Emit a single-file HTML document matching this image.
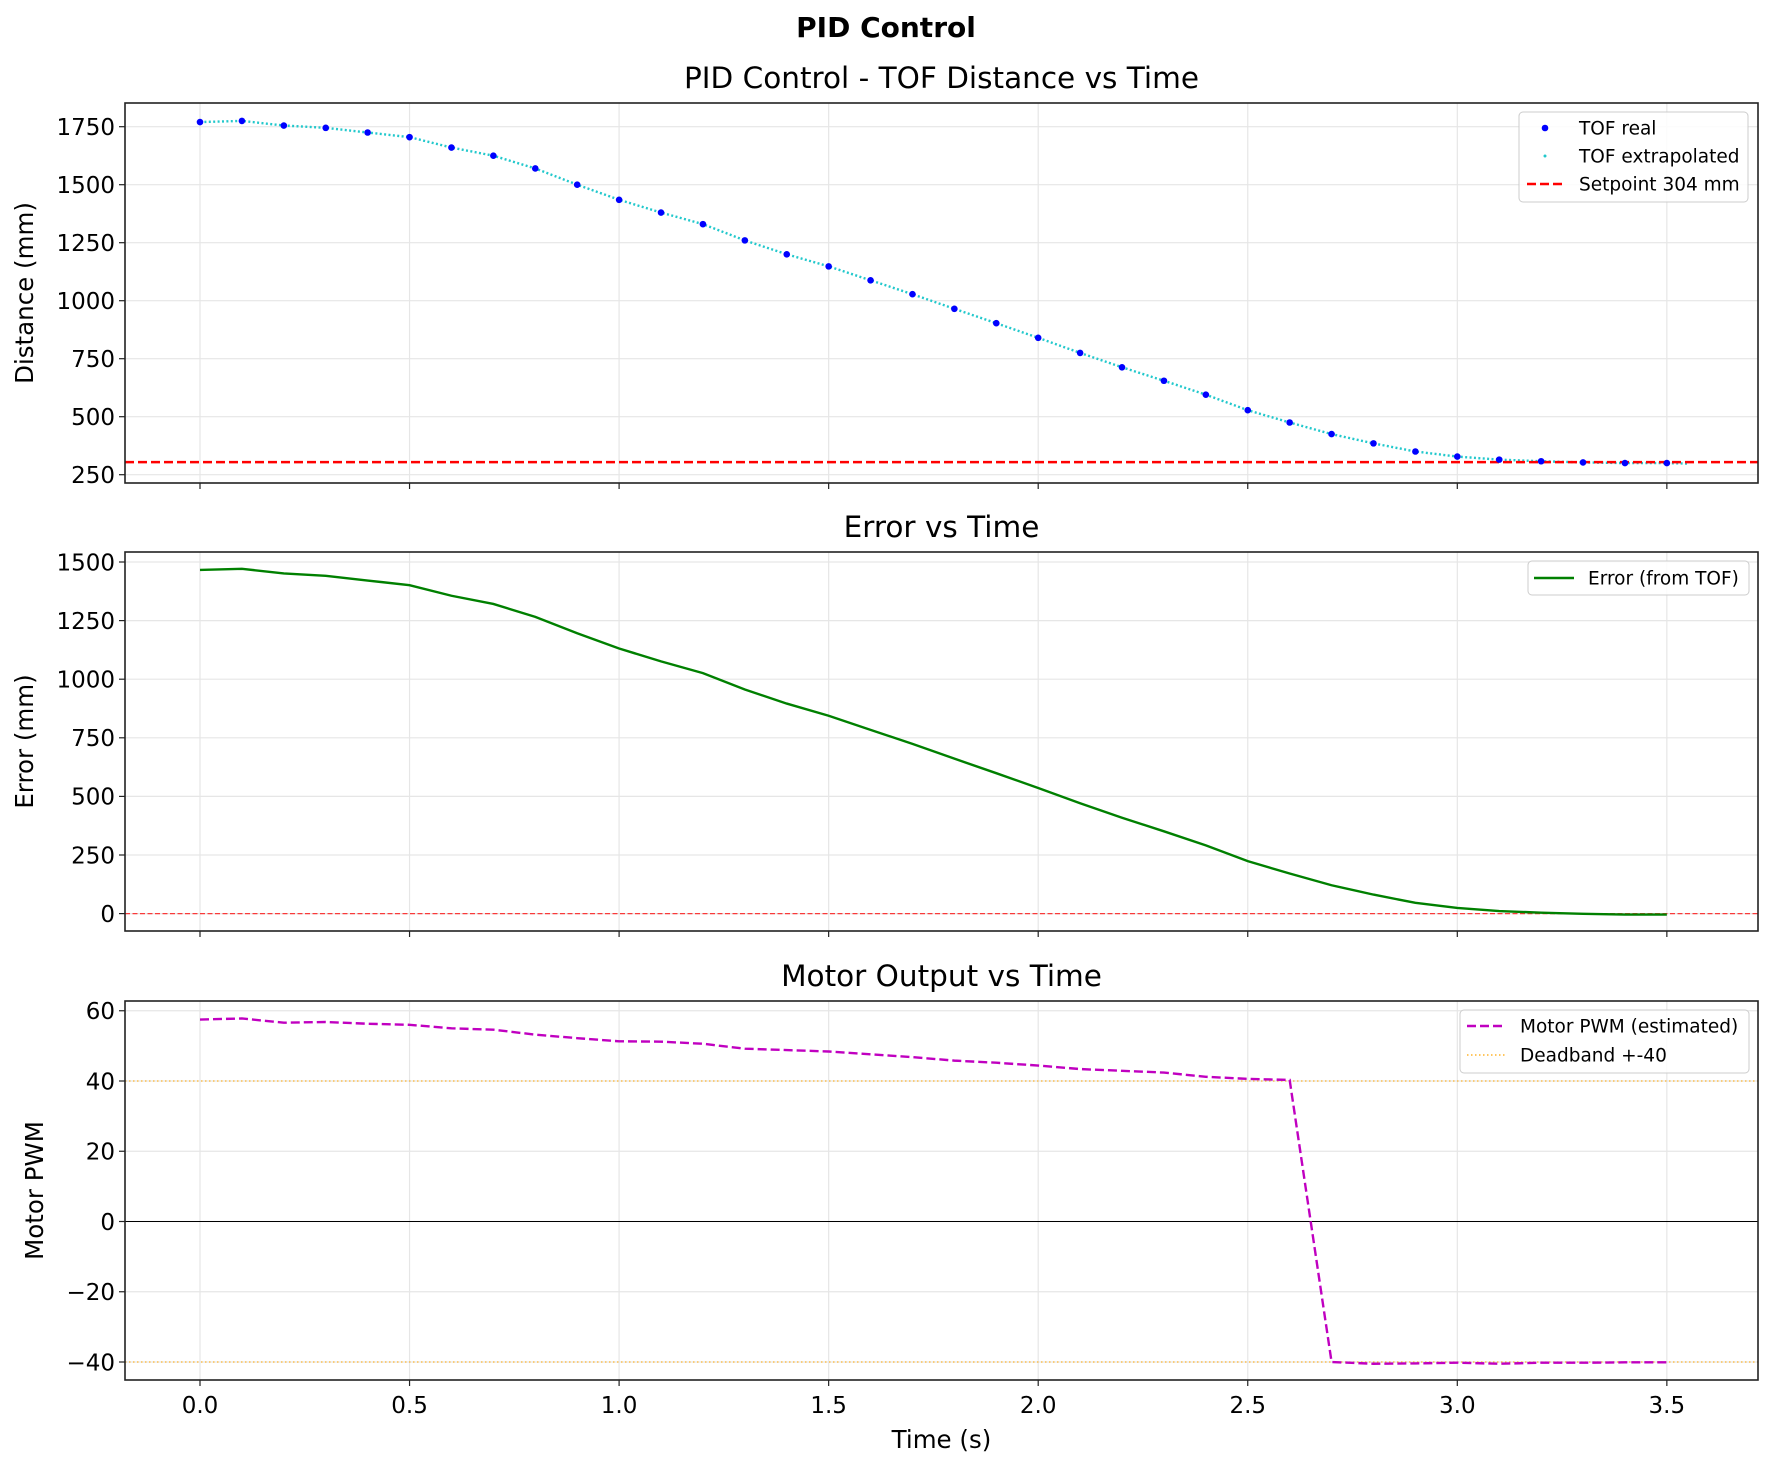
<!DOCTYPE html>
<html><head><meta charset="utf-8"><style>
body{margin:0;background:#fff;}
svg{display:block;font-family:"DejaVu Sans","Liberation Sans",sans-serif;}
</style></head><body>
<svg id="s" width="1773" height="1467" xmlns="http://www.w3.org/2000/svg"></svg>
<script>
const S=document.getElementById('s');let h='';
const X0=125,X1=1758;
const tx=t=>200+t*419.1;
const T=[];for(let i=0;i<=35;i++)T.push(i/10);
const D=[1770,1775,1755,1745,1725,1705,1660,1625,1570,1500,1435,1380,1330,1260,1200,1148,1088,1028,965,903,840,775,713,655,595,528,475,425,385,350,328,315,308,303,300,300];
const M=[57.5,57.8,56.6,56.8,56.3,56,55,54.6,53.2,52.2,51.3,51.2,50.6,49.2,48.8,48.4,47.6,46.8,45.8,45.2,44.4,43.4,42.9,42.4,41.2,40.6,40.3,-40,-40.5,-40.4,-40.2,-40.5,-40.2,-40.2,-40.1,-40.1];
function axes(top,bot,yf,ticks,ylabel,title,showX,lx){
  for(const t of [0,0.5,1,1.5,2,2.5,3,3.5]){const x=tx(t);h+=`<line x1="${x}" y1="${top}" x2="${x}" y2="${bot}" stroke="#e6e6e6" stroke-width="1.2"/>`;
    h+=`<line x1="${x}" y1="${bot}" x2="${x}" y2="${bot+6}" stroke="#222" stroke-width="1.2"/>`;
    if(showX)h+=`<text x="${x}" y="${bot+33}" font-size="23" text-anchor="middle">${t.toFixed(1)}</text>`;}
  for(const v of ticks){const y=yf(v);h+=`<line x1="${X0}" y1="${y}" x2="${X1}" y2="${y}" stroke="#e6e6e6" stroke-width="1.2"/>`;
    h+=`<line x1="${X0-6}" y1="${y}" x2="${X0}" y2="${y}" stroke="#222" stroke-width="1.2"/>`;
    h+=`<text x="${X0-10}" y="${y+8.3}" font-size="23" text-anchor="end">${String(v).replace('-','\u2212')}</text>`;}
  h+=`<text transform="translate(${lx},${(top+bot)/2}) rotate(-90)" font-size="24.5" text-anchor="middle">${ylabel}</text>`;
  h+=`<text x="${(X0+X1)/2}" y="${top-15}" font-size="29.5" text-anchor="middle">${title}</text>`;
}
function frame(top,bot){h+=`<rect x="${X0}" y="${top}" width="${X1-X0}" height="${bot-top}" fill="none" stroke="#222" stroke-width="1.6"/>`;}
h+=`<text x="886" y="37" font-size="28" font-weight="bold" text-anchor="middle">PID Control</text>`;
const y1=v=>126.7+(1750-v)*0.232;
axes(103,483,y1,[250,500,750,1000,1250,1500,1750],'Distance (mm)','PID Control - TOF Distance vs Time',false,33);
let pts=T.map((t,i)=>`${tx(t)},${y1(D[i])}`);pts.push(`${tx(3.55)},${y1(298)}`);
h+=`<polyline points="${pts.join(' ')}" fill="none" stroke="#22c8cc" stroke-width="2.4" stroke-dasharray="2 2.4"/>`;
h+=`<line x1="${X0}" y1="${y1(304)}" x2="${X1}" y2="${y1(304)}" stroke="#f00" stroke-width="2.5" stroke-dasharray="9 4"/>`;
T.forEach((t,i)=>{h+=`<circle cx="${tx(t)}" cy="${y1(D[i])}" r="3.3" fill="#0000ff"/>`;});
frame(103,483);
h+=`<rect x="1519" y="112" width="229" height="90" rx="4" fill="#fff" fill-opacity="0.85" stroke="#ccc"/>`;
h+=`<circle cx="1545" cy="128" r="3.3" fill="#00f"/><circle cx="1545" cy="156" r="1.5" fill="#22c8cc"/>`;
h+=`<line x1="1527" y1="184" x2="1564" y2="184" stroke="#f00" stroke-width="2.5" stroke-dasharray="9 4"/>`;
h+=`<text x="1579" y="134.5" font-size="18.5">TOF real</text><text x="1579" y="162.5" font-size="18.5">TOF extrapolated</text><text x="1579" y="190.5" font-size="18.5">Setpoint 304 mm</text>`;
const y2=v=>913.6-v*0.2344;
axes(552,931,y2,[0,250,500,750,1000,1250,1500],'Error (mm)','Error vs Time',false,33);
h+=`<line x1="${X0}" y1="${y2(0)}" x2="${X1}" y2="${y2(0)}" stroke="#f00" stroke-opacity="0.75" stroke-width="1.3" stroke-dasharray="5 2.5"/>`;
h+=`<polyline points="${T.map((t,i)=>`${tx(t)},${y2(Math.max(D[i]-304,-4))}`).join(' ')}" fill="none" stroke="#008000" stroke-width="2.4"/>`;
frame(552,931);
h+=`<rect x="1528" y="561" width="221" height="34" rx="4" fill="#fff" fill-opacity="0.85" stroke="#ccc"/>`;
h+=`<line x1="1534" y1="578" x2="1574" y2="578" stroke="#008000" stroke-width="2.4"/><text x="1588" y="584.5" font-size="18.5">Error (from TOF)</text>`;
const y3=v=>1221.5-v*3.5125;
axes(1001,1380,y3,[-40,-20,0,20,40,60],'Motor PWM','Motor Output vs Time',true,43);
h+=`<line x1="${X0}" y1="${y3(0)}" x2="${X1}" y2="${y3(0)}" stroke="#000" stroke-width="1"/>`;
for(const v of [40,-40])h+=`<line x1="${X0}" y1="${y3(v)}" x2="${X1}" y2="${y3(v)}" stroke="#ffa500" stroke-opacity="0.8" stroke-width="1.3" stroke-dasharray="1.5 2.5"/>`;
h+=`<polyline points="${T.map((t,i)=>`${tx(t)},${y3(M[i])}`).join(' ')}" fill="none" stroke="#c000c0" stroke-width="2.4" stroke-dasharray="9 4"/>`;
frame(1001,1380);
h+=`<rect x="1460" y="1010" width="289" height="63" rx="4" fill="#fff" fill-opacity="0.85" stroke="#ccc"/>`;
h+=`<line x1="1467" y1="1026" x2="1505" y2="1026" stroke="#c000c0" stroke-width="2.4" stroke-dasharray="9 4"/>`;
h+=`<line x1="1467" y1="1055" x2="1505" y2="1055" stroke="#ffa500" stroke-width="1.3" stroke-dasharray="1.5 2.5"/>`;
h+=`<text x="1520" y="1032.5" font-size="18.5">Motor PWM (estimated)</text><text x="1520" y="1061.5" font-size="18.5">Deadband +-40</text>`;
h+=`<text x="${(X0+X1)/2}" y="1448" font-size="24.5" text-anchor="middle">Time (s)</text>`;
S.innerHTML=h;
</script>
</body></html>
